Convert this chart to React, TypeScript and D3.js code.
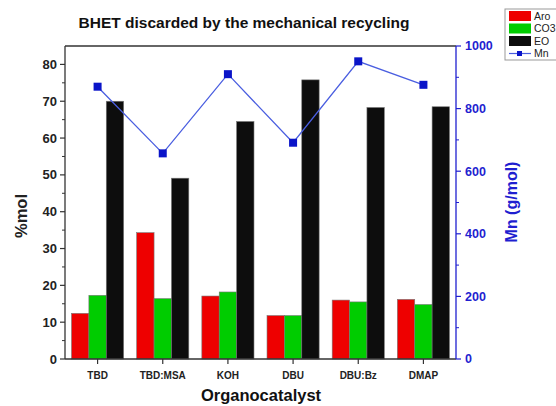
import React from "react";
import * as d3 from "d3";

const categories = ["TBD", "TBD:MSA", "KOH", "DBU", "DBU:Bz", "DMAP"];
const aroValues = [12.4, 34.3, 17.1, 11.8, 16.0, 16.2];
const co3Values = [17.3, 16.4, 18.2, 11.8, 15.5, 14.8];
const eoValues = [70.0, 49.1, 64.5, 75.8, 68.3, 68.5];
const mnValues = [870, 657, 910, 691, 951, 876];
const leftTicks = [0, 10, 20, 30, 40, 50, 60, 70, 80];
const rightTicks = [0, 200, 400, 600, 800, 1000];
const seriesNames = ["Aro", "CO3", "EO"];

const width = 556;
const height = 406;
const margin = { top: 46, right: 100, bottom: 47, left: 65 };
const axisColor = "#333";
const blue = "#1f1fd0";
const colors = ["#ee0000", "#00cc00", "#0d0d0d"];
const font = "Liberation Sans, Arial, sans-serif";

const App = () => {
  const plotRight = width - margin.right;
  const yBottom = height - margin.bottom;

  const x0 = d3
    .scaleBand()
    .domain(categories)
    .range([margin.left, plotRight])
    .paddingInner(0.2)
    .paddingOuter(0.1);

  const x1 = d3
    .scaleBand()
    .domain(seriesNames)
    .range([0, x0.bandwidth()]);

  const y = d3.scaleLinear().domain([0, 85]).range([yBottom, margin.top]);
  const y2 = d3.scaleLinear().domain([0, 1000]).range([yBottom, margin.top]);

  const series = [aroValues, co3Values, eoValues];

  const line = d3
    .line<number>()
    .x((d, i) => x0(categories[i])! + x0.bandwidth() / 2)
    .y((d) => y2(d));

  const leftMinor = d3.range(5, 85, 10);
  const rightMinor = d3.range(100, 1000, 200);

  return (
    <svg width={width} height={height} style={{ display: "block", position: "absolute", left: 0, top: 0 }} fontFamily={font}>
      <rect width={width} height={height} fill="#fff" />
      <text x={244} y={28} textAnchor="middle" fontSize={15.5} fontWeight="bold" fill="#111">
        BHET discarded by the mechanical recycling
      </text>

      {/* bars */}
      {categories.map((c, i) => (
        <g key={c} transform={`translate(${x0(c)},0)`}>
          {series.map((vals, s) => (
            <rect
              key={s}
              x={x1(seriesNames[s])}
              y={y(vals[i])}
              width={x1.bandwidth()}
              height={yBottom - y(vals[i])}
              fill={colors[s]}
              stroke="#777"
              strokeWidth={0.6}
            />
          ))}
        </g>
      ))}

      {/* Mn line */}
      <path d={line(mnValues) || ""} fill="none" stroke="#4a5ee0" strokeWidth={1.3} />
      {mnValues.map((v, i) => (
        <rect
          key={i}
          x={x0(categories[i])! + x0.bandwidth() / 2 - 4}
          y={y2(v) - 4}
          width={8}
          height={8}
          fill="#0a14c8"
        />
      ))}

      {/* frame */}
      <line x1={margin.left} x2={plotRight} y1={margin.top} y2={margin.top} stroke={axisColor} strokeWidth={1.3} />
      <line x1={margin.left} x2={plotRight} y1={yBottom} y2={yBottom} stroke={axisColor} strokeWidth={1.3} />
      <line x1={margin.left} x2={margin.left} y1={margin.top} y2={yBottom} stroke={axisColor} strokeWidth={1.3} />
      <line x1={plotRight} x2={plotRight} y1={margin.top} y2={yBottom} stroke={blue} strokeWidth={1.3} />

      {/* left axis */}
      {leftTicks.map((t) => (
        <g key={t}>
          <line x1={margin.left - 5} x2={margin.left} y1={y(t)} y2={y(t)} stroke={axisColor} strokeWidth={1.2} />
          <text x={margin.left - 8} y={y(t)} dy="0.35em" textAnchor="end" fontSize={13} fontWeight="bold" fill="#222">
            {t}
          </text>
        </g>
      ))}
      {leftMinor.map((t) => (
        <line key={t} x1={margin.left - 3} x2={margin.left} y1={y(t)} y2={y(t)} stroke={axisColor} strokeWidth={1} />
      ))}
      <text
        transform={`translate(27,216) rotate(-90)`}
        textAnchor="middle"
        fontSize={16.5}
        fontWeight="bold"
        fill="#222"
      >
        %mol
      </text>

      {/* right axis */}
      {rightTicks.map((t) => (
        <g key={t}>
          <line x1={plotRight} x2={plotRight + 5} y1={y2(t)} y2={y2(t)} stroke={blue} strokeWidth={1.2} />
          <text x={plotRight + 9} y={y2(t)} dy="0.35em" textAnchor="start" fontSize={12.5} fontWeight="bold" fill={blue}>
            {t}
          </text>
        </g>
      ))}
      {rightMinor.map((t) => (
        <line key={t} x1={plotRight} x2={plotRight + 3} y1={y2(t)} y2={y2(t)} stroke={blue} strokeWidth={1} />
      ))}
      <text
        transform={`translate(517,202) rotate(-90)`}
        textAnchor="middle"
        fontSize={16}
        fontWeight="bold"
        fill={blue}
      >
        Mn (g/mol)
      </text>

      {/* x axis */}
      {categories.map((c) => (
        <g key={c}>
          <line
            x1={x0(c)! + x0.bandwidth() / 2}
            x2={x0(c)! + x0.bandwidth() / 2}
            y1={yBottom}
            y2={yBottom + 5}
            stroke={axisColor}
            strokeWidth={1.2}
          />
          <text x={x0(c)! + x0.bandwidth() / 2} y={yBottom + 20} textAnchor="middle" fontSize={10} fontWeight="bold" fill="#222">
            {c}
          </text>
        </g>
      ))}
      <text x={261} y={401} textAnchor="middle" fontSize={16.5} fontWeight="bold" fill="#111">
        Organocatalyst
      </text>

      {/* legend */}
      <g transform="translate(505,9)">
        <rect x={0} y={0} width={56} height={51} fill="#fff" stroke="#999" strokeWidth={1} />
        {seriesNames.map((n, i) => (
          <g key={n} transform={`translate(0,${i * 12.5})`}>
            <rect x={4} y={2} width={22} height={10} fill={colors[i]} />
            <text x={29} y={7} dy="0.35em" fontSize={10.5} fill="#222">
              {n}
            </text>
          </g>
        ))}
        <g transform="translate(0,37.5)">
          <line x1={4} x2={26} y1={7} y2={7} stroke="#4a5ee0" strokeWidth={1.2} />
          <rect x={12} y={4.5} width={5} height={5} fill="#0a14c8" />
          <text x={29} y={7} dy="0.35em" fontSize={10.5} fill="#222">
            Mn
          </text>
        </g>
      </g>
    </svg>
  );
};

export default App;
